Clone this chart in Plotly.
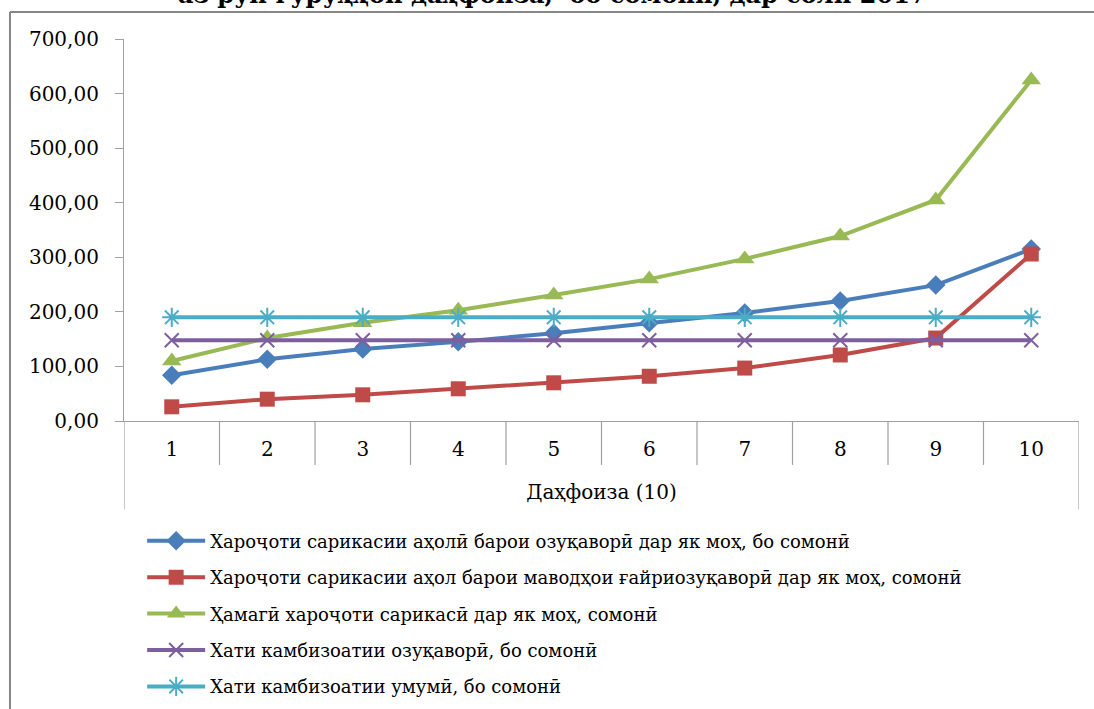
import plotly.graph_objects as go

deciles = [1, 2, 3, 4, 5, 6, 7, 8, 9, 10]
tick_labels = ["1", "2", "3", "4", "5", "6", "7", "8", "9", "10"]

food_spend = [84, 113, 132, 145, 161, 180, 198, 220, 249, 315]
nonfood_spend = [26, 40, 48, 59, 70, 82, 97, 121, 152, 306]
total_spend = [110, 152, 180, 203, 231, 260, 297, 339, 405, 625]
food_poverty_line = [148, 148, 148, 148, 148, 148, 148, 148, 148, 148]
total_poverty_line = [190, 190, 190, 190, 190, 190, 190, 190, 190, 190]

names = [
    "Хароҷоти сарикасии аҳолӣ барои озуқаворӣ дар як моҳ, бо сомонӣ",
    "Хароҷоти сарикасии аҳол барои маводҳои ғайриозуқаворӣ дар як моҳ, сомонӣ",
    "Ҳамагӣ хароҷоти сарикасӣ дар як моҳ, сомонӣ",
    "Хати камбизоатии озуқаворӣ, бо сомонӣ",
    "Хати камбизоатии умумӣ, бо сомонӣ",
]
title_text = "аз рӯи гурӯҳҳои даҳфоиза,  бо сомонӣ, дар соли 2017"
x_title = "Даҳфоиза (10)"

colors = ["#4A7EBB", "#BE4B48", "#98B954", "#7D5FA0", "#4BACC6"]
series = [food_spend, nonfood_spend, total_spend, food_poverty_line, total_poverty_line]
markers = [
    dict(symbol="diamond", size=15),
    dict(symbol="square", size=15),
    dict(symbol="triangle-up", size=17),
    dict(symbol="x-thin", size=14, line=dict(width=2, color=colors[3])),
    dict(symbol="asterisk", size=16, line=dict(width=2, color=colors[4])),
]

FONT = "DejaVu Serif"

fig = go.Figure()
for i, (nm, ys) in enumerate(zip(names, series)):
    mk = dict(markers[i])
    mk["color"] = colors[i]
    fig.add_trace(go.Scatter(
        x=deciles, y=ys, name=nm, mode="lines+markers",
        line=dict(color=colors[i], width=4),
        marker=mk, legendgroup=f"g{i}",
    ))

shapes = []
# category separators below the axis
for b in [1.5, 2.5, 3.5, 4.5, 5.5, 6.5, 7.5, 8.5, 9.5]:
    shapes.append(dict(type="line", xref="x", yref="paper", x0=b, x1=b, y0=0, y1=-0.115,
                       line=dict(color="#A0A0A0", width=1.2)))
for b in [0.5, 10.5]:
    shapes.append(dict(type="line", xref="x", yref="paper", x0=b, x1=b, y0=0, y1=-0.232,
                       line=dict(color="#A0A0A0", width=1.2)))
# outer chart border (partially visible)
shapes.append(dict(type="line", xref="paper", yref="paper", x0=-0.1194, x1=-0.1194, y0=1.0707, y1=-0.9,
                   line=dict(color="#868686", width=2)))
shapes.append(dict(type="line", xref="paper", yref="paper", x0=-0.1194, x1=1.1, y0=1.0707, y1=1.0707,
                   line=dict(color="#868686", width=2)))

fig.update_layout(
    width=1094, height=709,
    margin=dict(l=124, r=15, t=39, b=288, autoexpand=False),
    paper_bgcolor="white", plot_bgcolor="white",
    separators=", ",
    font=dict(family=FONT, color="#000000"),
    showlegend=True,
    legend=dict(
        x=0.019, y=-0.266, xanchor="left", yanchor="top",
        font=dict(family=FONT, size=18, color="#000000"),
        itemwidth=58, tracegroupgap=10, bgcolor="rgba(0,0,0,0)",
    ),
    shapes=shapes,
    annotations=[dict(
        text="<b>" + title_text + "</b>", xref="paper", yref="paper",
        x=0.449, y=1.0737, xanchor="center", yanchor="bottom", showarrow=False,
        font=dict(family=FONT, size=24, color="#000000"),
    )],
    xaxis=dict(
        range=[0.5, 10.5], tickvals=deciles, ticktext=tick_labels,
        showgrid=False, zeroline=False, showline=True, linecolor="#A0A0A0", linewidth=1.2,
        ticks="outside", ticklen=10, tickcolor="rgba(0,0,0,0)",
        tickfont=dict(family=FONT, size=20, color="#000000"),
        title=dict(text=x_title, font=dict(family=FONT, size=20, color="#000000"), standoff=24),
    ),
    yaxis=dict(
        range=[0, 700], dtick=100, tick0=0, tickformat=".2f",
        showgrid=False, zeroline=False, showline=True, linecolor="#A0A0A0", linewidth=1.2,
        ticks="outside", ticklen=8, tickcolor="#A0A0A0", ticklabelstandoff=12,
        tickfont=dict(family=FONT, size=20, color="#000000"),
    ),
)

fig.write_html("out.html", config={"displayModeBar": False},
               post_script="document.body.style.margin='0';")
